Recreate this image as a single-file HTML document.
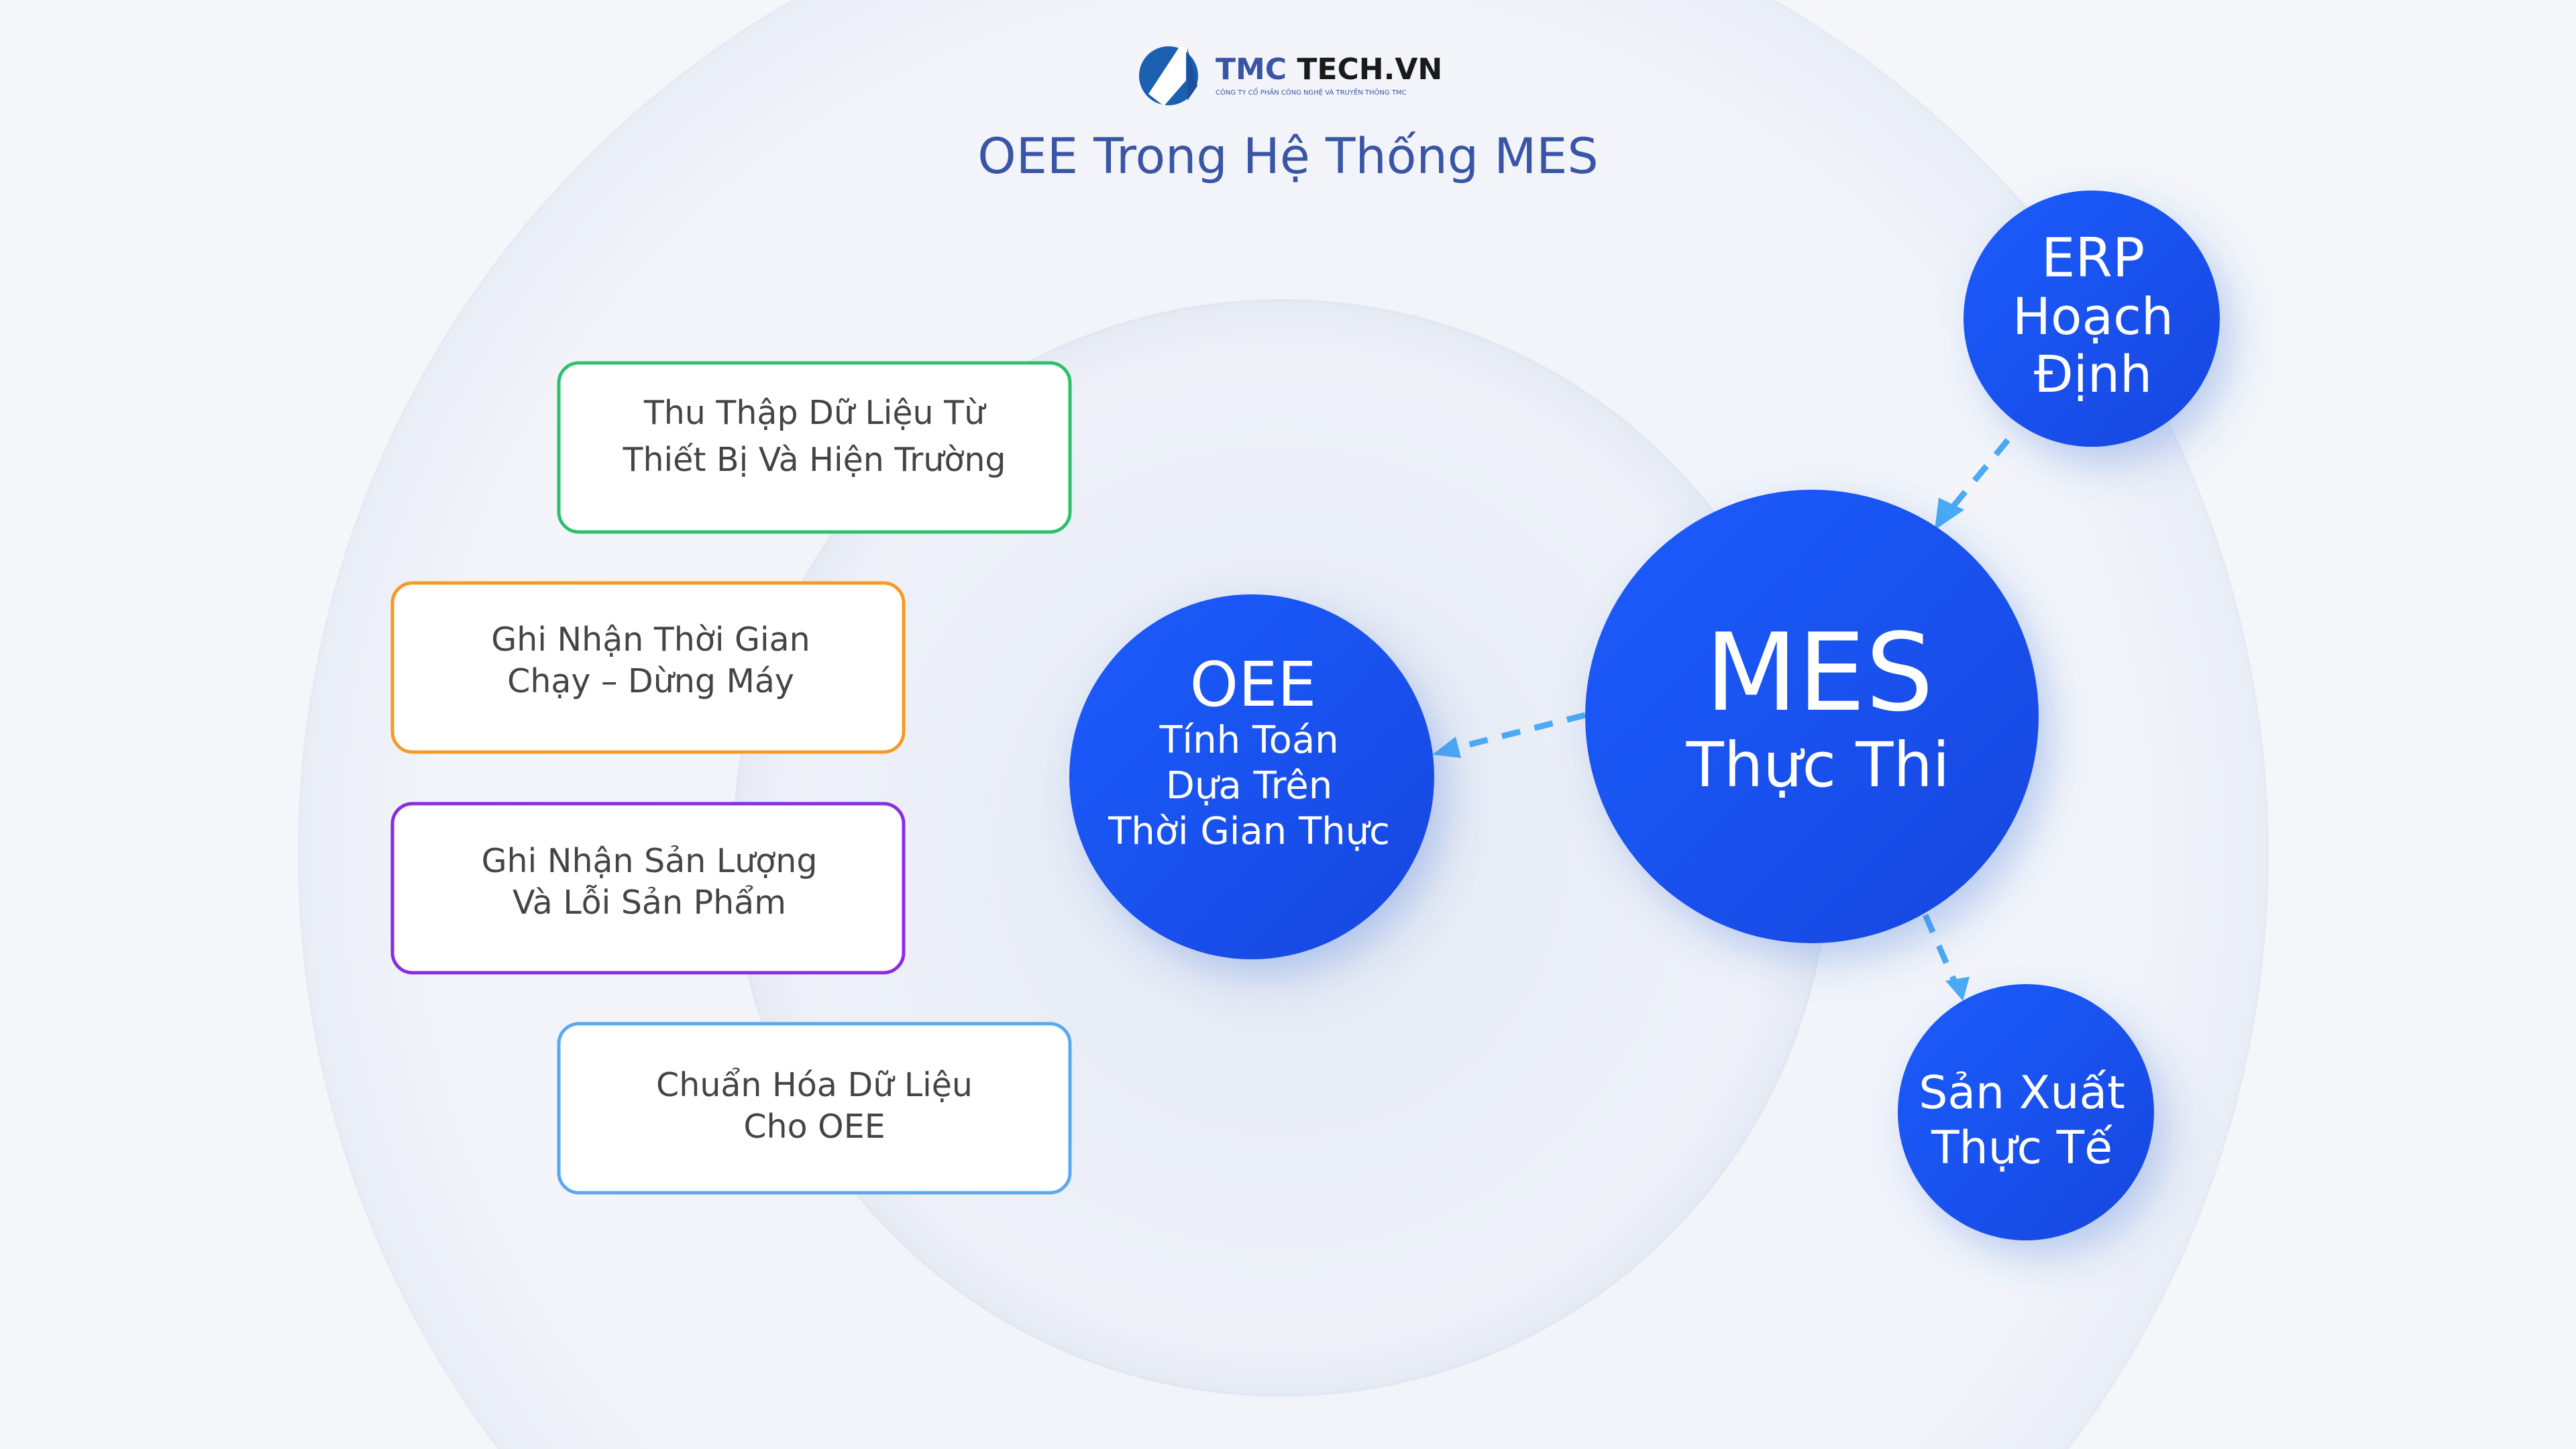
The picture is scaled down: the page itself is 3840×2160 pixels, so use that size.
<!DOCTYPE html>
<html><head><meta charset="utf-8"><style>
html,body{margin:0;padding:0;background:#f4f6fa;width:3840px;height:2160px;overflow:hidden;}
svg{display:block;overflow:hidden}
text{font-family:"DejaVu Sans","Liberation Sans",sans-serif;}
</style></head><body>
<svg width="3840" height="2160" viewBox="0 0 3840 2160" xmlns="http://www.w3.org/2000/svg">
<defs>
<clipPath id="frame"><rect width="3840" height="2160"/></clipPath>
<radialGradient id="bgc" cx="50%" cy="50%" r="50%">
<stop offset="0" stop-color="#eef1f8"/><stop offset="0.85" stop-color="#f3f5fa"/><stop offset="1" stop-color="#e9edf6"/>
</radialGradient>
<radialGradient id="inc" cx="50%" cy="50%" r="50%">
<stop offset="0" stop-color="#e3e8f3"/><stop offset="0.9" stop-color="#eef1f8"/><stop offset="1" stop-color="#e6eaf4"/>
</radialGradient>
<linearGradient id="blue" x1="0" y1="0" x2="1" y2="1">
<stop offset="0" stop-color="#1a5cfc"/><stop offset="1" stop-color="#1947e0"/>
</linearGradient>
<filter id="sh" x="-30%" y="-30%" width="160%" height="160%">
<feDropShadow dx="20" dy="25" stdDeviation="30" flood-color="#3b6fd6" flood-opacity="0.3"/>
</filter>
<marker id="ah" markerWidth="10" markerHeight="10" refX="8" refY="5" orient="auto" markerUnits="userSpaceOnUse" viewBox="0 0 10 10">
<path d="M0,0 L10,5 L0,10 z" fill="#4aaaf5"/>
</marker>
</defs>
<rect width="3840" height="2160" fill="#f4f6fa"/>
<g clip-path="url(#frame)">
<circle cx="1913" cy="1273" r="1467" fill="url(#bgc)" stroke="#e6eaf3" stroke-width="4"/>
<circle cx="1910" cy="1264" r="816" fill="url(#inc)" stroke="#e2e7f2" stroke-width="4"/>
</g>

<!-- logo -->
<g>
<circle cx="1742" cy="113" r="44" fill="#1a5fb0"/>
<path d="M1712,140 L1758,70 L1768,70 L1768,120 L1735,158 Z" fill="#fff"/>
<path d="M1770,72 L1770,150 L1785,128 Z" fill="#1c4f9e"/>
<text x="1812" y="118" font-size="44" font-weight="bold" fill="#3a55a5">TMC <tspan fill="#1a1a1a">TECH.VN</tspan></text>
<text x="1812" y="141" font-size="10" fill="#3a55a5">CÔNG TY CỔ PHẦN CÔNG NGHỆ VÀ TRUYỀN THÔNG TMC</text>
</g>
<text x="1920" y="258" font-size="73" fill="#3a55a5" text-anchor="middle">OEE Trong Hệ Thống MES</text>

<!-- boxes -->
<g font-size="49" fill="#444" text-anchor="middle">
<rect x="833" y="541" width="762" height="252" rx="30" fill="#fff" stroke="#2bc16a" stroke-width="5"/>
<text x="1214" y="632">Thu Thập Dữ Liệu Từ</text>
<text x="1214" y="702">Thiết Bị Và Hiện Trường</text>
<rect x="585" y="869" width="762" height="252" rx="30" fill="#fff" stroke="#f59a23" stroke-width="5"/>
<text x="970" y="970">Ghi Nhận Thời Gian</text>
<text x="970" y="1032">Chạy – Dừng Máy</text>
<rect x="585" y="1198" width="762" height="252" rx="30" fill="#fff" stroke="#8a2be2" stroke-width="5"/>
<text x="968" y="1300">Ghi Nhận Sản Lượng</text>
<text x="968" y="1362">Và Lỗi Sản Phẩm</text>
<rect x="833" y="1526" width="762" height="252" rx="30" fill="#fff" stroke="#5aa9f0" stroke-width="5"/>
<text x="1214" y="1634">Chuẩn Hóa Dữ Liệu</text>
<text x="1214" y="1696">Cho OEE</text>
</g>

<!-- connectors -->
<g stroke="#4aaaf5" stroke-width="9" stroke-dasharray="28,22" fill="none">
<line x1="2993" y1="656" x2="2895" y2="775" marker-end="url(#ah)"/>
<line x1="2363" y1="1066" x2="2150" y2="1120" marker-end="url(#ah)"/>
<line x1="2870" y1="1364" x2="2920" y2="1478" marker-end="url(#ah)"/>
</g>
<path d="M2884,790 L2890,742 L2928,760 Z" fill="#4aaaf5"/>
<path d="M2135,1125 L2170,1098 L2178,1130 Z" fill="#4aaaf5"/>
<path d="M2926,1492 L2900,1462 L2936,1456 Z" fill="#4aaaf5"/>

<!-- circles -->
<g filter="url(#sh)">
<circle cx="3118" cy="475" r="191" fill="url(#blue)"/>
<circle cx="2701" cy="1068" r="338" fill="url(#blue)"/>
<circle cx="1866" cy="1158" r="272" fill="url(#blue)"/>
<circle cx="3020" cy="1658" r="191" fill="url(#blue)"/>
</g>
<g fill="#fff" text-anchor="middle">
<text x="3120" y="412" font-size="80">ERP</text>
<text x="3120" y="498" font-size="76">Hoạch</text>
<text x="3120" y="584" font-size="76">Định</text>
<text x="2712" y="1058" font-size="160">MES</text>
<text x="2710" y="1172" font-size="92">Thực Thi</text>
<text x="1868" y="1052" font-size="92">OEE</text>
<text x="1862" y="1122" font-size="56">Tính Toán</text>
<text x="1862" y="1190" font-size="56">Dựa Trên</text>
<text x="1862" y="1258" font-size="56">Thời Gian Thực</text>
<text x="3014" y="1652" font-size="68">Sản Xuất</text>
<text x="3014" y="1734" font-size="68">Thực Tế</text>
</g>
</svg>
</body></html>
